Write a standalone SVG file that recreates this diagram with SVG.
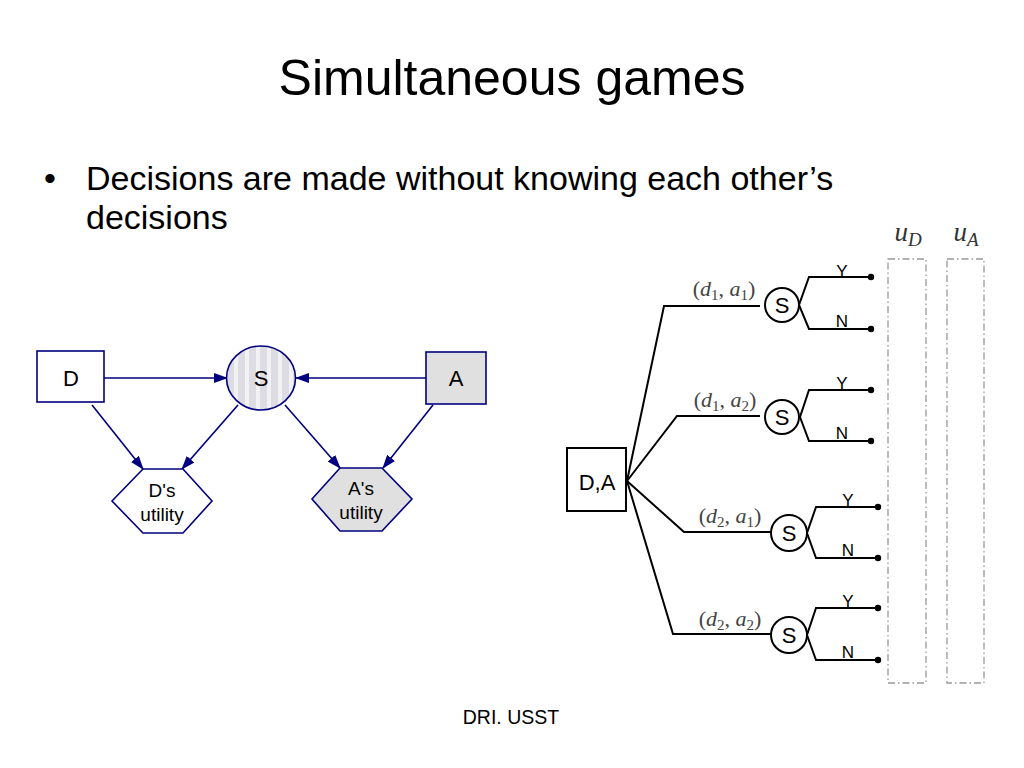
<svg xmlns="http://www.w3.org/2000/svg" width="1024" height="768" viewBox="0 0 1024 768">
<style>
.sans{font-family:"Liberation Sans",Arial,sans-serif;}
.title{font-size:50px;fill:#000;}
.body{font-size:34px;fill:#000;}
.foot{font-size:19.5px;fill:#000;}
.nav{stroke:#000080;stroke-width:1.6;}
.nl{fill:#000;font-size:22px;text-anchor:middle;}
.ul{fill:#000;font-size:19px;text-anchor:middle;}
.edge{stroke:#000080;stroke-width:1.6;fill:none;marker-end:url(#arr);}
.tr{stroke:#000;stroke-width:2;fill:none;}
.yn{font-size:17px;fill:#000;text-anchor:middle;}
.math{font-family:"Liberation Serif","Times New Roman",serif;font-size:22px;fill:#444;text-anchor:middle;}
.it{font-style:italic;}
.sub{font-size:15px;}
.dd{stroke:#999;stroke-width:1.3;fill:none;stroke-dasharray:7 3 1.5 3;}
.uh{font-size:27px;fill:#333;}
.uh .sub{font-size:19px;}
</style>
<defs>
<marker id="arr" markerWidth="14" markerHeight="10" refX="13" refY="5" orient="auto" markerUnits="userSpaceOnUse">
<path d="M0,0 L14,5 L0,10 Z" fill="#000080"/>
</marker>
<pattern id="stripes" width="11" height="20" patternUnits="userSpaceOnUse" x="227">
<rect width="11" height="20" fill="#dcdce2"/>
<rect x="7" width="4" height="20" fill="#f2f2f4"/>
</pattern>
</defs>
<rect width="1024" height="768" fill="#fff"/>
<text class="sans title" x="512" y="95" text-anchor="middle">Simultaneous games</text>
<text class="sans body" x="44" y="190">•</text>
<text class="sans body" x="86" y="190">Decisions are made without knowing each other’s</text>
<text class="sans body" x="86" y="229">decisions</text>
<text class="sans foot" x="511" y="724" text-anchor="middle">DRI. USST</text>

<g id="connectors-left">
<line class="edge" x1="104" y1="378" x2="227" y2="378"/>
<line class="edge" x1="426" y1="378" x2="296" y2="378"/>
<line class="edge" x1="92" y1="405" x2="143" y2="469"/>
<line class="edge" x1="238" y1="405" x2="182" y2="469"/>
<line class="edge" x1="285" y1="405" x2="340" y2="468"/>
<line class="edge" x1="433" y1="405" x2="383" y2="468"/>
</g>
<g id="node-D">
<rect class="nav" x="37" y="351" width="67" height="51" fill="#fff"/>
<text class="sans nl" x="71" y="386">D</text>
</g>
<g id="node-S">
<ellipse class="nav" cx="261" cy="378" rx="34.5" ry="32" fill="url(#stripes)"/>
<text class="sans nl" x="261" y="386">S</text>
</g>
<g id="node-A">
<rect class="nav" x="426" y="352" width="60" height="52" fill="#e0e0e0"/>
<text class="sans nl" x="456" y="386">A</text>
</g>
<g id="node-Dutil">
<polygon class="nav" points="112,501 143,469 183,469 212,501 183,533 143,533" fill="#fff"/>
<text class="sans ul" x="162" y="497">D's</text>
<text class="sans ul" x="162" y="521">utility</text>
</g>
<g id="node-Autil">
<polygon class="nav" points="312,499 340,468 382,468 412,499 382,531 340,531" fill="#e0e0e0"/>
<text class="sans ul" x="361" y="495">A's</text>
<text class="sans ul" x="361" y="519">utility</text>
</g>

<g id="connectors-tree">
<polyline class="tr" points="627,481 664,306 760,306"/>
<polyline class="tr" points="627,481 677,416 760,416"/>
<polyline class="tr" points="627,481 684,532 771,532"/>
<polyline class="tr" points="627,481 673,634 771,634"/>
<polyline class="tr" points="871,277 809,277 799,305 809,329 871,329"/>
<polyline class="tr" points="871,390 809,390 800,417 809,441 871,441"/>
<polyline class="tr" points="878,507 816,507 807,533 816,558 878,558"/>
<polyline class="tr" points="878,608 816,608 807,635 816,660 878,660"/>
</g>
<g id="dots">
<circle cx="871" cy="277" r="3.2"/><circle cx="871" cy="329" r="3.2"/>
<circle cx="871" cy="390" r="3.2"/><circle cx="871" cy="441" r="3.2"/>
<circle cx="878" cy="507" r="3.2"/><circle cx="878" cy="558" r="3.2"/>
<circle cx="878" cy="608" r="3.2"/><circle cx="878" cy="660" r="3.2"/>
</g>
<g id="node-DA">
<rect class="tr" x="567" y="448" width="59" height="63" fill="#fff"/>
<text class="sans" x="597" y="490" font-size="22" text-anchor="middle">D,A</text>
</g>
<g id="node-S1">
<circle class="tr" cx="782" cy="305" r="17" fill="#fff"/>
<text class="sans" x="782" y="313" font-size="22" text-anchor="middle">S</text>
</g>
<g id="node-S2">
<circle class="tr" cx="782" cy="417" r="17" fill="#fff"/>
<text class="sans" x="782" y="425" font-size="22" text-anchor="middle">S</text>
</g>
<g id="node-S3">
<circle class="tr" cx="789" cy="533" r="18" fill="#fff"/>
<text class="sans" x="789" y="541" font-size="22" text-anchor="middle">S</text>
</g>
<g id="node-S4">
<circle class="tr" cx="789" cy="635" r="18" fill="#fff"/>
<text class="sans" x="789" y="643" font-size="22" text-anchor="middle">S</text>
</g>
<g id="labels-yn" class="sans">
<text class="yn" x="842" y="277">Y</text><text class="yn" x="842" y="327">N</text>
<text class="yn" x="842" y="389">Y</text><text class="yn" x="842" y="439">N</text>
<text class="yn" x="848" y="506">Y</text><text class="yn" x="848" y="556">N</text>
<text class="yn" x="848" y="607">Y</text><text class="yn" x="848" y="658">N</text>
</g>
<g id="labels-math">
<text class="math" x="724" y="296">(<tspan class="it">d</tspan><tspan class="sub" dy="4">1</tspan><tspan dy="-4">, </tspan><tspan class="it">a</tspan><tspan class="sub" dy="4">1</tspan><tspan dy="-4">)</tspan></text>
<text class="math" x="725" y="407">(<tspan class="it">d</tspan><tspan class="sub" dy="4">1</tspan><tspan dy="-4">, </tspan><tspan class="it">a</tspan><tspan class="sub" dy="4">2</tspan><tspan dy="-4">)</tspan></text>
<text class="math" x="730" y="523">(<tspan class="it">d</tspan><tspan class="sub" dy="4">2</tspan><tspan dy="-4">, </tspan><tspan class="it">a</tspan><tspan class="sub" dy="4">1</tspan><tspan dy="-4">)</tspan></text>
<text class="math" x="730" y="626">(<tspan class="it">d</tspan><tspan class="sub" dy="4">2</tspan><tspan dy="-4">, </tspan><tspan class="it">a</tspan><tspan class="sub" dy="4">2</tspan><tspan dy="-4">)</tspan></text>
</g>
<g id="utility-columns">
<rect class="dd" x="888" y="259" width="38" height="424"/>
<rect class="dd" x="947" y="259" width="37" height="424"/>
<text class="math uh" x="908" y="241"><tspan class="it">u</tspan><tspan class="it sub" dy="5">D</tspan></text>
<text class="math uh" x="966" y="241"><tspan class="it">u</tspan><tspan class="it sub" dy="5">A</tspan></text>
</g>
</svg>
